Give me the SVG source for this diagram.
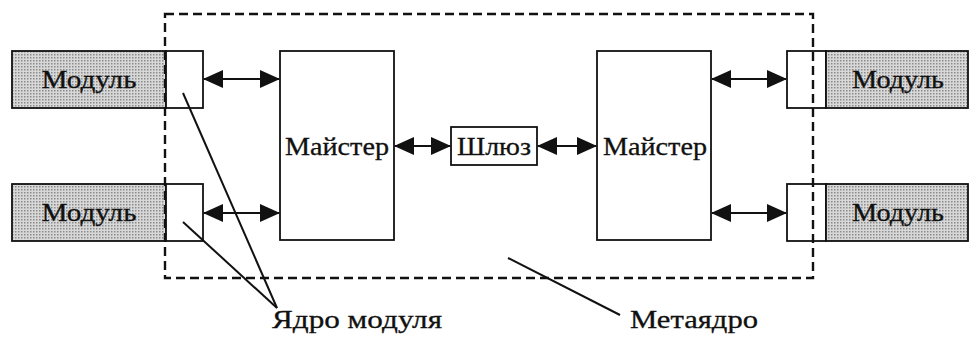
<svg xmlns="http://www.w3.org/2000/svg" width="970" height="338" viewBox="0 0 970 338">
  <style>
    .box { fill: #fff; stroke: #111; stroke-width: 1.8; }
    .mod { fill: url(#dots); stroke: #111; stroke-width: 1.8; }
    .lbl { font-family: "Liberation Serif", "Times New Roman", serif; font-size: 25px; fill: #111; stroke: #111; stroke-width: 0.3; }
    .link { stroke: #111; stroke-width: 2; fill: none; }
    .lead { stroke: #111; stroke-width: 2; fill: none; }
    .frame { fill: none; stroke: #111; stroke-width: 2.4; stroke-dasharray: 9 5; }
  </style>
  <defs>
    <pattern id="dots" width="3" height="3" patternUnits="userSpaceOnUse">
      <rect width="3" height="3" fill="#d8d8d8"/>
      <rect x="0" y="0" width="1.5" height="1.5" fill="#8a8a8a"/>
    </pattern>
    <marker id="arrow" viewBox="0 0 20 18" refX="19" refY="9" markerWidth="20" markerHeight="18" markerUnits="userSpaceOnUse" orient="auto-start-reverse">
      <path d="M0,0 L20,9 L0,18 Z" fill="#111"/>
    </marker>
  </defs>

  <!-- left modules -->
  <g id="module-left-top">
    <rect class="mod" x="12" y="51" width="154" height="57"/>
    <rect class="box" x="166" y="51" width="37" height="57"/>
    <text class="lbl" x="89" y="88" text-anchor="middle" textLength="95" lengthAdjust="spacingAndGlyphs">Модуль</text>
  </g>
  <g id="module-left-bottom">
    <rect class="mod" x="12" y="184" width="154" height="57"/>
    <rect class="box" x="166" y="184" width="37" height="57"/>
    <text class="lbl" x="89" y="221" text-anchor="middle" textLength="95" lengthAdjust="spacingAndGlyphs">Модуль</text>
  </g>

  <!-- masters and gateway -->
  <g id="master-left">
    <rect class="box" x="280" y="51" width="114" height="189"/>
    <text class="lbl" x="337" y="155" text-anchor="middle" textLength="104" lengthAdjust="spacingAndGlyphs">Майстер</text>
  </g>
  <g id="gateway">
    <rect class="box" x="451" y="127" width="86" height="38"/>
    <text class="lbl" x="494" y="155" text-anchor="middle" textLength="74" lengthAdjust="spacingAndGlyphs">Шлюз</text>
  </g>
  <g id="master-right">
    <rect class="box" x="597" y="51" width="114" height="189"/>
    <text class="lbl" x="655" y="155" text-anchor="middle" textLength="104" lengthAdjust="spacingAndGlyphs">Майстер</text>
  </g>

  <!-- right modules -->
  <g id="module-right-top">
    <rect class="box" x="787" y="51" width="39" height="57"/>
    <rect class="mod" x="826" y="51" width="142" height="57"/>
    <text class="lbl" x="898" y="88" text-anchor="middle" textLength="92" lengthAdjust="spacingAndGlyphs">Модуль</text>
  </g>
  <g id="module-right-bottom">
    <rect class="box" x="787" y="184" width="39" height="57"/>
    <rect class="mod" x="826" y="184" width="142" height="57"/>
    <text class="lbl" x="898" y="221" text-anchor="middle" textLength="92" lengthAdjust="spacingAndGlyphs">Модуль</text>
  </g>

  <!-- metakernel boundary -->
  <g id="metakernel">
    <rect class="frame" x="165" y="14" width="648" height="264"/>
  </g>

  <!-- double-headed links -->
  <g id="connectors">
    <line class="link" x1="204" y1="79" x2="279" y2="79" marker-start="url(#arrow)" marker-end="url(#arrow)"/>
    <line class="link" x1="204" y1="213" x2="279" y2="213" marker-start="url(#arrow)" marker-end="url(#arrow)"/>
    <line class="link" x1="395" y1="146" x2="450" y2="146" marker-start="url(#arrow)" marker-end="url(#arrow)"/>
    <line class="link" x1="538" y1="146" x2="596" y2="146" marker-start="url(#arrow)" marker-end="url(#arrow)"/>
    <line class="link" x1="712" y1="79" x2="786" y2="79" marker-start="url(#arrow)" marker-end="url(#arrow)"/>
    <line class="link" x1="712" y1="213" x2="786" y2="213" marker-start="url(#arrow)" marker-end="url(#arrow)"/>
  </g>

  <!-- callouts -->
  <g id="callouts">
    <line class="lead" x1="183" y1="93" x2="277" y2="308"/>
    <line class="lead" x1="183" y1="222" x2="277" y2="308"/>
    <line class="lead" x1="508" y1="258" x2="620" y2="315"/>
    <text class="lbl" x="272" y="328" textLength="170" lengthAdjust="spacingAndGlyphs">Ядро модуля</text>
    <text class="lbl" x="630" y="328" textLength="128" lengthAdjust="spacingAndGlyphs">Метаядро</text>
  </g>
</svg>
